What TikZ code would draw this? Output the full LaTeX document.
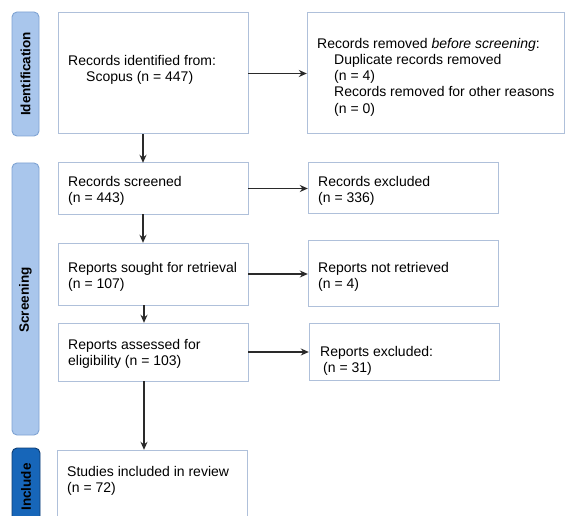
\documentclass[tikz,border=0pt]{standalone}
\usepackage{fontspec}
\setmainfont{Liberation Sans}
\usetikzlibrary{arrows.meta}
\definecolor{boxline}{HTML}{AFC0DA}
\definecolor{barfill}{HTML}{A9C6EC}
\definecolor{barline}{HTML}{7FA3D3}
\definecolor{incfill}{HTML}{1766B9}
\definecolor{incline}{HTML}{0E3E74}
\definecolor{arrowgrey}{HTML}{2A2A2A}
\begin{document}
\begin{tikzpicture}[x=1pt,y=-1pt,
  box/.style={draw=boxline,line width=1pt,fill=white},
  anc/.style={inner sep=0pt},
  bar/.style={draw=barline,fill=barfill,rounded corners=5pt,line width=0.9pt},
  incbar/.style={draw=incline,fill=incfill,rounded corners=5pt,line width=0.9pt},
  lbl/.style={font=\fontsize{13.5}{16}\selectfont\bfseries,rotate=90,text=black},
  txt/.style={anchor=north west,inner sep=0pt,align=left,font=\fontsize{14}{16.2}\selectfont},
  arr/.style={draw=arrowgrey,line width=1.3pt,-{Stealth[length=8pt,width=7pt,fill=black]}}]
\useasboundingbox (0,0) rectangle (565,516);
\fill[white] (0,0) rectangle (565,516);
% phase bars
\draw[bar] (12,12) rectangle (39,136);
\node[lbl] (lid) at (25.5,74) {Identification};
\draw[bar] (12,163) rectangle (39,435);
\node[lbl] (lsc) at (25.5,300) {Screening};
\draw[incbar] (12,448) rectangle (40,540);
\node[lbl] (lin) at (26,487) {Include};
% boxes
\draw[box] (58,13) rectangle (248,134);
\node[anc,minimum width=190pt,minimum height=121pt] (b1) at (153,73.5) {};
\node[txt] (t1) at (68,55) {Records identified from:\\\hspace*{18pt}Scopus (n = 447)};
\draw[box] (307,13) rectangle (564,134);
\node[anc,minimum width=257pt,minimum height=121pt] (b2) at (435.5,73.5) {};
\node[txt] (t2) at (317,38) {Records removed \textit{before screening}:\\
\hspace*{17pt}Duplicate records removed\\
\hspace*{17pt}(n = 4)\\
\hspace*{17pt}Records removed for other reasons\\
\hspace*{17pt}(n = 0)};
\draw[box] (58,163) rectangle (248,214);
\node[anc,minimum width=190pt,minimum height=51pt] (b3) at (153,188.5) {};
\node[txt] (t3) at (68,176) {Records screened\\(n = 443)};
\draw[box] (308,163) rectangle (498,213);
\node[anc,minimum width=190pt,minimum height=50pt] (r1) at (403,188) {};
\node[txt] (t4) at (318,176) {Records excluded\\(n = 336)};
\draw[box] (58,243) rectangle (248,305);
\node[anc,minimum width=190pt,minimum height=62pt] (b4) at (153,274) {};
\node[txt] (t5) at (68,262) {Reports sought for retrieval\\(n = 107)};
\draw[box] (308,240) rectangle (498,306);
\node[anc,minimum width=190pt,minimum height=66pt] (r2) at (403,273) {};
\node[txt] (t6) at (318,262) {Reports not retrieved\\(n = 4)};
\draw[box] (58,323) rectangle (248,381);
\node[anc,minimum width=190pt,minimum height=58pt] (b5) at (153,352) {};
\node[txt] (t7) at (68,339) {Reports assessed for\\eligibility (n = 103)};
\draw[box] (309,323) rectangle (499,380);
\node[anc,minimum width=190pt,minimum height=57pt] (r3) at (404,351.5) {};
\node[txt] (t8) at (320,346) {Reports excluded:\\\hspace*{3pt}(n = 31)};
\draw[box] (57,450) rectangle (247,540);
\node[anc,minimum width=190pt,minimum height=90pt] (b6) at (152,495) {};
\node[txt] (t9) at (67,466) {Studies included in review\\(n = 72)};
% arrows
\draw[arr] (b1.east) -- (b2.west);
\draw[arr] (b3.east) -- (r1.west |- b3.east);
\draw[arr] (b4.east) -- (r2.west |- b4.east);
\draw[arr] (b5.east) -- (r3.west |- b5.east);
\draw[arr] (b1.south -| 143,0) -- (b3.north -| 143,0);
\draw[arr] (b3.south -| 143,0) -- (b4.north -| 143,0);
\draw[arr] (b4.south -| 144,0) -- (b5.north -| 144,0);
\draw[arr] (b5.south -| 144,0) -- (b6.north -| 144,0);
\end{tikzpicture}
\end{document}
